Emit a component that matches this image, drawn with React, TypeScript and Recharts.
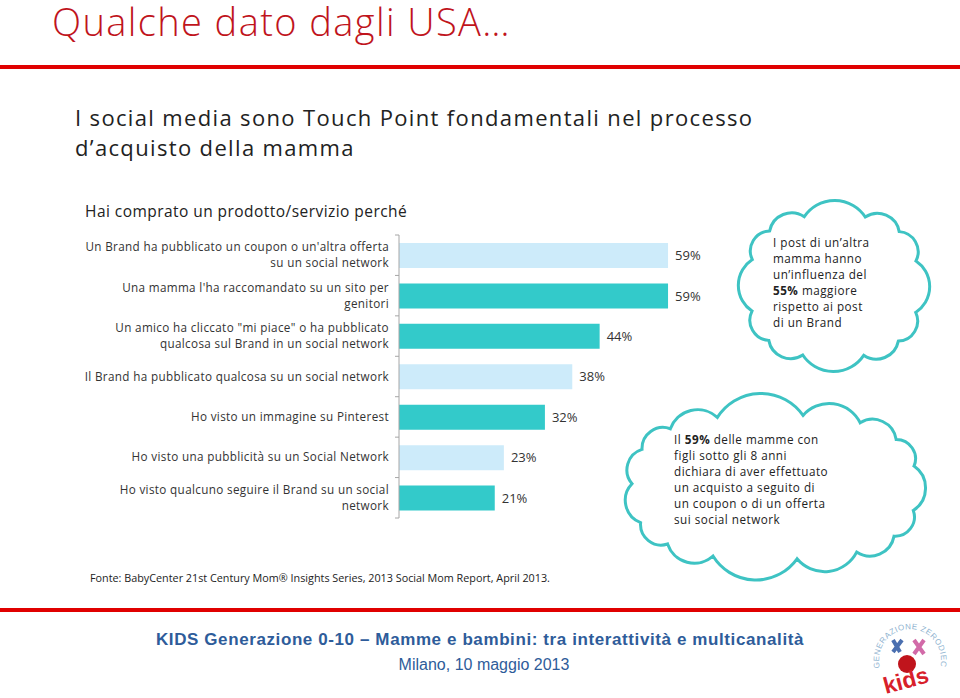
import React from 'react';
import { BarChart, Bar, XAxis, YAxis, Cell, LabelList } from 'recharts';

const categories = [
  "Un Brand ha pubblicato un coupon o un'altra offerta\nsu un social network",
  "Una mamma l'ha raccomandato su un sito per\ngenitori",
  'Un amico ha cliccato "mi piace" o ha pubblicato\nqualcosa sul Brand in un social network',
  'Il Brand ha pubblicato qualcosa su un social network',
  'Ho visto un immagine su Pinterest',
  'Ho visto una pubblicità su un Social Network',
  'Ho visto qualcuno seguire il Brand su un social\nnetwork',
];
const values = [59, 59, 44, 38, 32, 23, 21];

const data = categories.map((name, i) => ({ name, value: values[i] }));

const LIGHT = '#CDEBFA';
const TEAL = '#33CACA';
const barColors = [LIGHT, TEAL, TEAL, LIGHT, TEAL, LIGHT, TEAL];

const FONT = '"Open Sans", "DejaVu Sans", sans-serif';
const ARIAL = '"Liberation Sans", Arial, sans-serif';
const CHART_H = 303;
const MARGIN = { top: 10, right: 105, bottom: 10, left: 0 };
const BAND = (CHART_H - MARGIN.top - MARGIN.bottom) / categories.length;

const CategoryTick = (props: any) => {
  const { x, y, payload, index } = props;
  const lines = String(payload.value).split('\n');
  const lh = 16;
  const y0 = y - ((lines.length - 1) * lh) / 2;
  const axisX = x + 10;
  return (
    <g>
      {lines.map((l, k) => (
        <text
          key={k}
          x={x}
          y={y0 + k * lh}
          dy="0.35em"
          textAnchor="end"
          fontSize={11.7}
          letterSpacing={0.35}
          fill="#333"
          fontFamily={FONT}
        >
          {l}
        </text>
      ))}
      <line x1={axisX - 4} x2={axisX} y1={y - BAND / 2} y2={y - BAND / 2} stroke="#A6A6A6" />
      {index === categories.length - 1 && (
        <line x1={axisX - 4} x2={axisX} y1={y + BAND / 2} y2={y + BAND / 2} stroke="#A6A6A6" />
      )}
    </g>
  );
};

// cloud outline: bumps along a squarish ellipse
function cloudPath(cx: number, cy: number, rx: number, ry: number, n: number, rot = 0) {
  const pw = (v: number) => Math.sign(v) * Math.pow(Math.abs(v), 0.75);
  const pts = [];
  for (let i = 0; i < n; i++) {
    const a = rot + (2 * Math.PI * i) / n;
    pts.push([cx + rx * pw(Math.cos(a)), cy + ry * pw(Math.sin(a))]);
  }
  let d = `M ${pts[0][0]} ${pts[0][1]}`;
  for (let i = 0; i < n; i++) {
    const p = pts[i];
    const q = pts[(i + 1) % n];
    const chord = Math.hypot(q[0] - p[0], q[1] - p[1]);
    const r = chord * 0.6;
    d += ` A ${r} ${r} 0 0 1 ${q[0]} ${q[1]}`;
  }
  return d + ' Z';
}

const cloud1Text = [
  ['I post di un\u2019altra'],
  ['mamma hanno'],
  ['un\u2019influenza del'],
  ['55%', ' maggiore'],
  ['rispetto ai post'],
  ['di un Brand'],
];
const cloud2Text = [
  ['Il ', '59%', ' delle mamme con'],
  ['figli sotto gli 8 anni'],
  ['dichiara di aver effettuato'],
  ['un acquisto a seguito di'],
  ['un coupon o di un offerta'],
  ['sui social network'],
];

const CloudText = ({ x, y, rows }: { x: number; y: number; rows: string[][] }) => (
  <g fontSize={11.7} letterSpacing={0.5} fill="#222" fontFamily={FONT}>
    {rows.map((parts, k) => (
      <text key={k} x={x} y={y + k * 16} dy="0.35em">
        {parts.map((p, j) => (
          <tspan key={j} fontWeight={p.includes('%') ? 700 : 400}>
            {p}
          </tspan>
        ))}
      </text>
    ))}
  </g>
);

export default function App() {
  return (
    <div
      style={{
        position: 'absolute',
        left: 0,
        top: 0,
        width: 960,
        height: 698,
        background: '#fff',
        overflow: 'hidden',
        fontFamily: FONT,
      }}
    >
      <svg width={960} height={698} style={{ position: 'absolute', left: 0, top: 0 }}>
        <defs>
          <path id="logoArc" d="M 880 668 A 31 31 0 1 1 940 668" />
        </defs>
        <text x={52} y={36} fontSize={38} letterSpacing={1.4} fill="#C0141C" fontWeight={300} fontFamily={FONT}>
          Qualche dato dagli USA…
        </text>
        <rect x={0} y={65} width={960} height={4} fill="#E00000" />
        <g fontSize={22} fill="#222" fontFamily={FONT} letterSpacing={1.35}>
          <text x={75} y={117} dominantBaseline="central">
            I social media sono Touch Point fondamentali nel processo
          </text>
          <text x={75} y={147} dominantBaseline="central">
            d’acquisto della mamma
          </text>
        </g>
        <text x={85} y={211} fontSize={15.5} letterSpacing={0.45} fill="#222" fontFamily={FONT} dominantBaseline="central">
          Hai comprato un prodotto/servizio perché
        </text>

        <path d={cloudPath(834, 286, 84, 71, 12, -1.3)} fill="#fff" stroke="#3EC3C3" strokeWidth={3} />
        <CloudText x={773} y={243} rows={cloud1Text} />
        <path d={cloudPath(774, 487, 142, 72, 15, -1.45)} fill="#fff" stroke="#3EC3C3" strokeWidth={3} />
        <CloudText x={674} y={440} rows={cloud2Text} />

        <text x={90} y={577} fontSize={10.8} fill="#222" fontFamily={FONT} dominantBaseline="central">
          Fonte: BabyCenter 21st Century Mom® Insights Series, 2013 Social Mom Report, April 2013.
        </text>
        <rect x={0} y={608} width={960} height={4} fill="#E00000" />
        <text
          x={480}
          y={639}
          fontSize={17}
          letterSpacing={0.6}
          fontWeight={700}
          fill="#2E5C9A"
          textAnchor="middle"
          dominantBaseline="central"
          fontFamily={ARIAL}
        >
          KIDS Generazione 0-10 – Mamme e bambini: tra interattività e multicanalità
        </text>
        <text
          x={484}
          y={664}
          fontSize={16}
          fill="#2E5C9A"
          textAnchor="middle"
          dominantBaseline="central"
          fontFamily={ARIAL}
        >
          Milano, 10 maggio 2013
        </text>

        <text fontSize={8} fill="#8FB3D0" fontFamily={ARIAL} letterSpacing={0.5}>
          <textPath href="#logoArc">GENERAZIONE ZERODIECI</textPath>
        </text>
        <path d="M 893 640 L 900 652 M 893 652 L 902 640" stroke="#4A6FB0" strokeWidth={4} />
        <path d="M 914 640 L 924 654 M 914 654 L 924 640" stroke="#D26AA8" strokeWidth={4} />
        <circle cx={907} cy={664} r={9} fill="#C0141C" />
        <text
          x={908}
          y={688}
          fontSize={23}
          fontWeight={700}
          fill="#D8202A"
          textAnchor="middle"
          fontFamily={ARIAL}
          transform="rotate(-15 908 688)"
        >
          kids
        </text>
      </svg>

      <div style={{ position: 'absolute', left: 0, top: 225 }}>
        <BarChart width={960} height={CHART_H} data={data} layout="vertical" margin={MARGIN}>
          <XAxis type="number" domain={[0, 100]} hide />
          <YAxis
            type="category"
            dataKey="name"
            width={399}
            interval={0}
            tickLine={false}
            tickSize={0}
            tickMargin={10}
            axisLine={{ stroke: '#A6A6A6' }}
            tick={<CategoryTick />}
          />
          <Bar dataKey="value" barSize={25} isAnimationActive={false}>
            {data.map((d, i) => (
              <Cell key={d.name} fill={barColors[i]} />
            ))}
            <LabelList
              dataKey="value"
              position="right"
              offset={7}
              formatter={(v: any) => `${v}%`}
              style={{ fontSize: 13, fill: '#333', fontFamily: FONT }}
            />
          </Bar>
        </BarChart>
      </div>
    </div>
  );
}
